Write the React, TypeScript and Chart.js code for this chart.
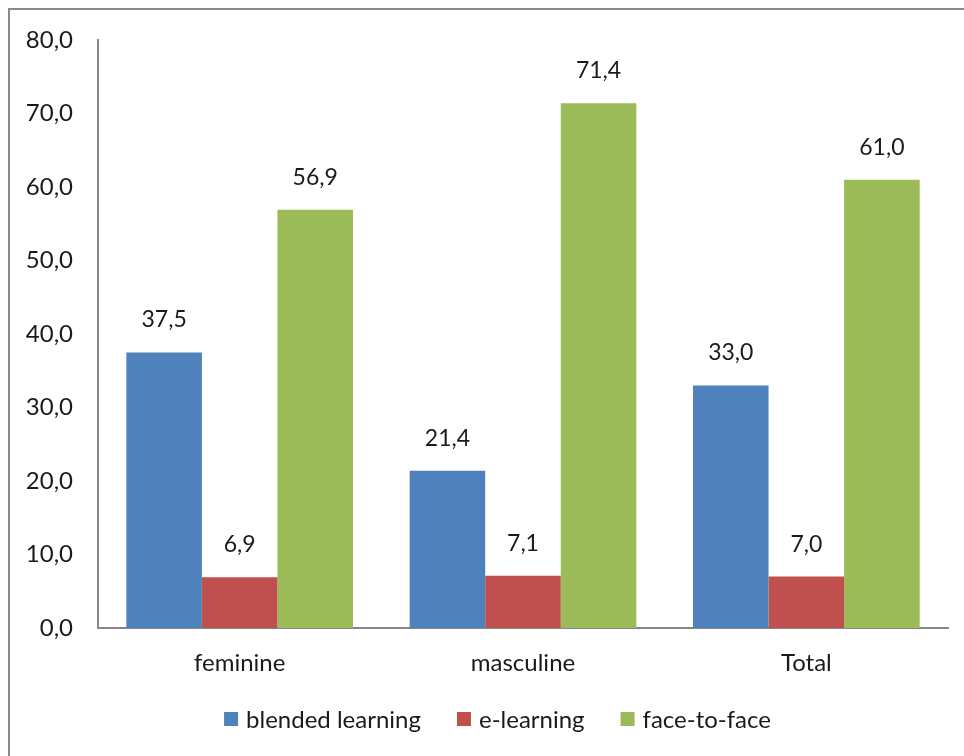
import React, { useEffect, useRef } from "react";
import { Chart, registerables } from "chart.js";

Chart.register(...registerables);

const categories = ["feminine", "masculine", "Total"];
const seriesNames = ["blended learning", "e-learning", "face-to-face"];
const blended = [37.5, 21.4, 33.0];
const eLearning = [6.9, 7.1, 7.0];
const faceToFace = [56.9, 71.4, 61.0];
const seriesColors = ["#4F81BD", "#C0504D", "#9BBB59"];
const yMin = 0;
const yMax = 80;
const yStep = 10;

const FONT = "Lato, 'Open Sans', sans-serif";
const TEXT = "#1a1a1a";
const fmt = (v: number) => v.toFixed(1).replace(".", ",");

const labelPlugin = {
  id: "valueLabels",
  afterDatasetsDraw(chart: any) {
    const ctx = chart.ctx;
    ctx.save();
    ctx.font = `23px ${FONT}`;
    ctx.fillStyle = TEXT;
    ctx.textAlign = "center";
    ctx.textBaseline = "alphabetic";
    chart.data.datasets.forEach((ds: any, i: number) => {
      const meta = chart.getDatasetMeta(i);
      meta.data.forEach((bar: any, j: number) => {
        ctx.fillText(fmt(ds.data[j]), bar.x, bar.y - 25);
      });
    });
    ctx.restore();
  },
};

const legendPlugin = {
  id: "customLegend",
  afterDraw(chart: any) {
    const ctx = chart.ctx;
    ctx.save();
    ctx.font = `24px ${FONT}`;
    ctx.textBaseline = "middle";
    ctx.textAlign = "left";
    const box = 14;
    const gapText = 8;
    const gapItem = 36;
    const items = chart.data.datasets.map((ds: any) => ({
      label: ds.label,
      color: ds.backgroundColor,
      w: box + gapText + ctx.measureText(ds.label).width,
    }));
    const total =
      items.reduce((a: number, it: any) => a + it.w, 0) + gapItem * (items.length - 1);
    let x = 497.5 - total / 2;
    const cy = 719;
    items.forEach((it: any) => {
      ctx.fillStyle = it.color;
      ctx.fillRect(x, cy - box / 2, box, box);
      ctx.fillStyle = TEXT;
      ctx.fillText(it.label, x + box + gapText, cy + 1);
      x += it.w + gapItem;
    });
    ctx.restore();
  },
};

export default function App() {
  const ref = useRef<HTMLCanvasElement | null>(null);
  useEffect(() => {
    if (!ref.current) return;
    const chart = new Chart(ref.current, {
      type: "bar",
      data: {
        labels: categories,
        datasets: [blended, eLearning, faceToFace].map((d, i) => ({
          label: seriesNames[i],
          data: d,
          backgroundColor: seriesColors[i],
          borderWidth: 0,
          categoryPercentage: 0.8,
          barPercentage: 1.0,
        })),
      },
      options: {
        responsive: false,
        animation: false,
        devicePixelRatio: 1,
        layout: { padding: { left: 20, right: 16, top: 40, bottom: 68 } },
        plugins: {
          tooltip: { enabled: false },
          legend: { display: false },
        },
        scales: {
          x: {
            grid: { display: false, drawTicks: false },
            border: { display: true, color: "#868686", width: 2 },
            ticks: {
              font: { family: FONT, size: 24 },
              color: TEXT,
              padding: 21,
            },
            afterFit: (s: any) => {
              s.height = 60;
            },
          },
          y: {
            min: yMin,
            max: yMax,
            grid: { display: false, drawTicks: false },
            border: { display: true, color: "#868686", width: 2 },
            ticks: {
              stepSize: yStep,
              font: { family: FONT, size: 24 },
              color: TEXT,
              padding: 25,
              callback: (v: any) => fmt(Number(v)),
            },
            afterFit: (s: any) => {
              s.width = 78;
            },
          },
        },
      },
      plugins: [labelPlugin, legendPlugin],
    });
    return () => chart.destroy();
  }, []);
  return (
    <div
      style={{
        position: "fixed",
        left: 0,
        top: 0,
        width: 964,
        height: 756,
        overflow: "hidden",
        background: "#fff",
      }}
    >
      <div
        style={{
          position: "absolute",
          left: 8,
          top: 8,
          width: 1000,
          height: 800,
          border: "2px solid #8a8a8a",
        }}
      />
      <canvas
        ref={ref}
        width={964}
        height={756}
        style={{ position: "absolute", left: 0, top: 0, width: 964, height: 756 }}
      />
    </div>
  );
}
